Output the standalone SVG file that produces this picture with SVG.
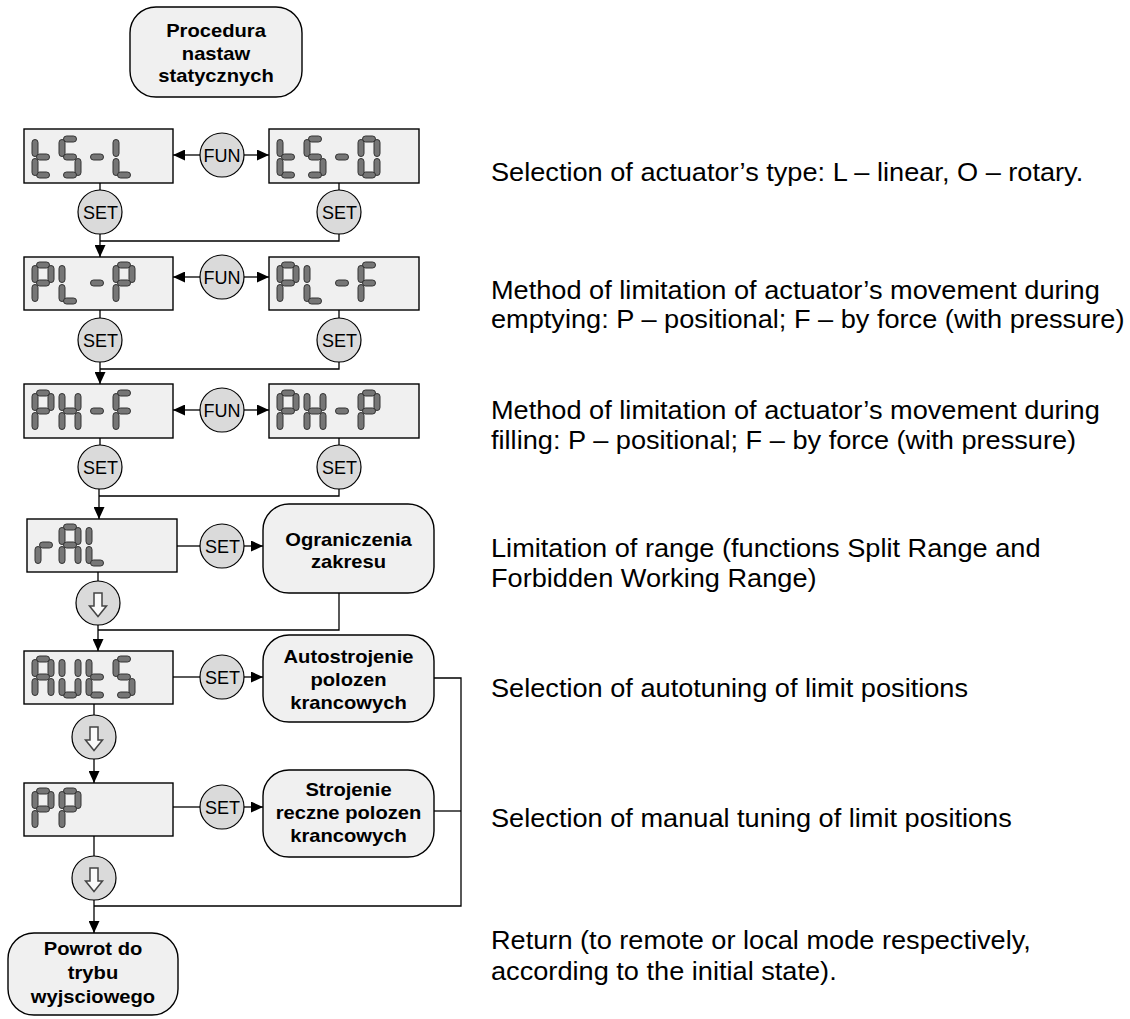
<svg xmlns="http://www.w3.org/2000/svg" width="1130" height="1019" viewBox="0 0 1130 1019">
<style>
.box{fill:#f0f0f0;stroke:#000;stroke-width:1.4}
.disp{fill:#f0f0f0;stroke:#000;stroke-width:1.4}
.btn{fill:#dadada;stroke:#000;stroke-width:1.2}
.seg{fill:#767676;stroke:#333;stroke-width:1}
.bt{font-family:"Liberation Sans",Arial,sans-serif;font-weight:bold;font-size:18px;text-anchor:middle;fill:#000}
.ct{font-family:"Liberation Sans",Arial,sans-serif;font-size:18px;text-anchor:middle;fill:#000}
.rt{font-family:"Liberation Sans",Arial,sans-serif;font-size:26px;fill:#000}
.ln{fill:none;stroke:#000;stroke-width:1.3}
.arr{fill:none;stroke:#000;stroke-width:1.3;marker-end:url(#ah)}
.dn{fill:#fafafa;stroke:#444;stroke-width:1.5}
</style>
<defs>
<marker id="ah" markerWidth="12" markerHeight="11" refX="12" refY="5.5" orient="auto" markerUnits="userSpaceOnUse"><path d="M0,0 L12,5.5 L0,11 Z" fill="#000"/></marker>
<rect id="sh" class="seg" width="13" height="6" rx="3"/>
<rect id="sv" class="seg" width="6" height="17" rx="3"/>
<g id="ch-t"><use href="#sh" x="4.5" y="36"/><use href="#sv" x="0" y="22.5"/><use href="#sv" x="0" y="3.5"/><use href="#sh" x="4.5" y="18"/></g>
<g id="ch-S"><use href="#sh" x="4.5" y="0"/><use href="#sv" x="0" y="3.5"/><use href="#sh" x="4.5" y="18"/><use href="#sv" x="16" y="22.5"/><use href="#sh" x="4.5" y="36"/></g>
<g id="ch-m"><use href="#sh" x="4.5" y="18"/></g>
<g id="ch-L"><use href="#sv" x="0" y="3.5"/><use href="#sv" x="0" y="22.5"/><use href="#sh" x="4.5" y="36"/></g>
<g id="ch-O"><use href="#sh" x="4.5" y="0"/><use href="#sv" x="16" y="3.5"/><use href="#sv" x="16" y="22.5"/><use href="#sh" x="4.5" y="36"/><use href="#sv" x="0" y="22.5"/><use href="#sv" x="0" y="3.5"/></g>
<g id="ch-P"><use href="#sh" x="4.5" y="0"/><use href="#sv" x="16" y="3.5"/><use href="#sv" x="0" y="3.5"/><use href="#sh" x="4.5" y="18"/><use href="#sv" x="0" y="22.5"/></g>
<g id="ch-F"><use href="#sh" x="4.5" y="0"/><use href="#sv" x="0" y="3.5"/><use href="#sh" x="4.5" y="18"/><use href="#sv" x="0" y="22.5"/></g>
<g id="ch-H"><use href="#sv" x="16" y="3.5"/><use href="#sv" x="16" y="22.5"/><use href="#sv" x="0" y="22.5"/><use href="#sv" x="0" y="3.5"/><use href="#sh" x="4.5" y="18"/></g>
<g id="ch-r"><use href="#sv" x="0" y="22.5"/><use href="#sh" x="4.5" y="18"/></g>
<g id="ch-A"><use href="#sh" x="4.5" y="0"/><use href="#sv" x="16" y="3.5"/><use href="#sv" x="16" y="22.5"/><use href="#sv" x="0" y="22.5"/><use href="#sv" x="0" y="3.5"/><use href="#sh" x="4.5" y="18"/></g>
<g id="ch-U"><use href="#sv" x="16" y="3.5"/><use href="#sv" x="16" y="22.5"/><use href="#sh" x="4.5" y="36"/><use href="#sv" x="0" y="22.5"/><use href="#sv" x="0" y="3.5"/></g>
<g id="darr"><circle class="btn" r="22"/><path class="dn" d="M-4,-10 H4 V3 H8.5 L0,13.5 L-8.5,3 H-4 Z"/></g>
</defs>
<rect width="1130" height="1019" fill="#fff"/>

<g id="connectors">
<line class="arr" x1="200" y1="155" x2="173" y2="155"/>
<line class="arr" x1="244" y1="155" x2="269" y2="155"/>
<line class="arr" x1="200" y1="277" x2="173" y2="277"/>
<line class="arr" x1="244" y1="277" x2="269" y2="277"/>
<line class="arr" x1="200" y1="410" x2="173" y2="410"/>
<line class="arr" x1="244" y1="410" x2="269" y2="410"/>
<line class="ln" x1="100" y1="183" x2="100" y2="190"/>
<line class="ln" x1="339" y1="183" x2="339" y2="190"/>
<line class="arr" x1="100" y1="234" x2="100" y2="257"/>
<polyline class="ln" points="339,234 339,241 100,241"/>
<line class="ln" x1="100" y1="310" x2="100" y2="318"/>
<line class="ln" x1="339" y1="310" x2="339" y2="318"/>
<line class="arr" x1="100" y1="362" x2="100" y2="384"/>
<polyline class="ln" points="339,362 339,369 100,369"/>
<line class="ln" x1="100" y1="438" x2="100" y2="445"/>
<line class="ln" x1="339" y1="438" x2="339" y2="445"/>
<line class="arr" x1="99" y1="489" x2="99" y2="519"/>
<polyline class="ln" points="339,489 339,496 99,496"/>
<line class="ln" x1="177" y1="546" x2="200" y2="546"/>
<line class="arr" x1="244" y1="546" x2="263" y2="546"/>
<line class="ln" x1="98" y1="572" x2="98" y2="581"/>
<line class="arr" x1="98" y1="625" x2="98" y2="651"/>
<polyline class="ln" points="339,593 339,630 98,630"/>
<line class="ln" x1="173" y1="677" x2="200" y2="677"/>
<line class="arr" x1="244" y1="677" x2="263" y2="677"/>
<line class="ln" x1="94" y1="704" x2="94" y2="715"/>
<line class="arr" x1="94" y1="759" x2="94" y2="783"/>
<line class="ln" x1="173" y1="807" x2="200" y2="807"/>
<line class="arr" x1="244" y1="807" x2="263" y2="807"/>
<line class="ln" x1="94" y1="836" x2="94" y2="856"/>
<line class="arr" x1="94" y1="900" x2="94" y2="933"/>
<polyline class="ln" points="434,678 461,678 461,906 94,906"/>
<line class="ln" x1="434" y1="811" x2="461" y2="811"/>
</g>

<g id="start">
<rect class="box" x="130" y="7" width="172" height="90" rx="26"/>
<g transform="translate(216,0) scale(1.12,1)">
<text class="bt" x="0" y="37">Procedura</text>
<text class="bt" x="0" y="60">nastaw</text>
<text class="bt" x="0" y="82">statycznych</text>
</g>
</g>

<g id="disp-tS-L">
<rect class="disp" x="24" y="129" width="149" height="54"/>
<use href="#ch-t" x="32" y="136"/><use href="#ch-S" x="59" y="136"/><use href="#ch-m" x="86" y="136"/><use href="#ch-L" x="113" y="136"/>
</g>
<g id="disp-tS-O">
<rect class="disp" x="269" y="129" width="150" height="54"/>
<use href="#ch-t" x="277" y="136"/><use href="#ch-S" x="304" y="136"/><use href="#ch-m" x="331" y="136"/><use href="#ch-O" x="358" y="136"/>
</g>
<g id="fun1"><circle class="btn" cx="222" cy="155" r="22"/><text class="ct" x="222" y="161.5">FUN</text></g>
<g id="set1l"><circle class="btn" cx="100" cy="212" r="22"/><text class="ct" x="100.5" y="218.5">SET</text></g>
<g id="set1r"><circle class="btn" cx="339" cy="212" r="22"/><text class="ct" x="339.5" y="218.5">SET</text></g>

<g id="disp-PL-P">
<rect class="disp" x="24" y="257" width="149" height="53"/>
<use href="#ch-P" x="32" y="262"/><use href="#ch-L" x="59" y="262"/><use href="#ch-m" x="86" y="262"/><use href="#ch-P" x="113" y="262"/>
</g>
<g id="disp-PL-F">
<rect class="disp" x="269" y="257" width="150" height="53"/>
<use href="#ch-P" x="277" y="262"/><use href="#ch-L" x="304" y="262"/><use href="#ch-m" x="331" y="262"/><use href="#ch-F" x="358" y="262"/>
</g>
<g id="fun2"><circle class="btn" cx="222" cy="277" r="22"/><text class="ct" x="222" y="283.5">FUN</text></g>
<g id="set2l"><circle class="btn" cx="100" cy="340" r="22"/><text class="ct" x="100.5" y="346.5">SET</text></g>
<g id="set2r"><circle class="btn" cx="339" cy="340" r="22"/><text class="ct" x="339.5" y="346.5">SET</text></g>

<g id="disp-PH-F">
<rect class="disp" x="24" y="384" width="149" height="54"/>
<use href="#ch-P" x="32" y="390"/><use href="#ch-H" x="59" y="390"/><use href="#ch-m" x="86" y="390"/><use href="#ch-F" x="113" y="390"/>
</g>
<g id="disp-PH-P">
<rect class="disp" x="269" y="384" width="150" height="54"/>
<use href="#ch-P" x="277" y="390"/><use href="#ch-H" x="304" y="390"/><use href="#ch-m" x="331" y="390"/><use href="#ch-P" x="358" y="390"/>
</g>
<g id="fun3"><circle class="btn" cx="222" cy="410" r="22"/><text class="ct" x="222" y="416.5">FUN</text></g>
<g id="set3l"><circle class="btn" cx="100" cy="467" r="22"/><text class="ct" x="100.5" y="473.5">SET</text></g>
<g id="set3r"><circle class="btn" cx="339" cy="467" r="22"/><text class="ct" x="339.5" y="473.5">SET</text></g>

<g id="disp-rAL">
<rect class="disp" x="27" y="519" width="150" height="53"/>
<use href="#ch-r" x="35" y="524"/><use href="#ch-A" x="59" y="524"/><use href="#ch-L" x="86" y="524"/>
</g>
<g id="set4"><circle class="btn" cx="222" cy="546" r="22"/><text class="ct" x="222.5" y="552.5">SET</text></g>
<g id="range">
<rect class="box" x="263" y="504" width="171" height="89" rx="26"/>
<g transform="translate(348.5,0) scale(1.12,1)">
<text class="bt" x="0" y="546">Ograniczenia</text>
<text class="bt" x="0" y="568">zakresu</text>
</g>
</g>
<g id="down1"><use href="#darr" x="98" y="603"/></g>

<g id="disp-AUtS">
<rect class="disp" x="24" y="651" width="149" height="53"/>
<use href="#ch-A" x="32" y="656"/><use href="#ch-U" x="59" y="656"/><use href="#ch-t" x="86" y="656"/><use href="#ch-S" x="113" y="656"/>
</g>
<g id="set5"><circle class="btn" cx="222" cy="677" r="22"/><text class="ct" x="222.5" y="683.5">SET</text></g>
<g id="autotune">
<rect class="box" x="263" y="635" width="171" height="87" rx="26"/>
<g transform="translate(348.5,0) scale(1.12,1)">
<text class="bt" x="0" y="663">Autostrojenie</text>
<text class="bt" x="0" y="686">polozen</text>
<text class="bt" x="0" y="709">krancowych</text>
</g>
</g>
<g id="down2"><use href="#darr" x="94" y="737"/></g>

<g id="disp-PP">
<rect class="disp" x="24" y="783" width="149" height="53"/>
<use href="#ch-P" x="32" y="788"/><use href="#ch-P" x="59" y="788"/>
</g>
<g id="set6"><circle class="btn" cx="222" cy="807" r="22"/><text class="ct" x="222.5" y="813.5">SET</text></g>
<g id="manualtune">
<rect class="box" x="263" y="770" width="171" height="87" rx="26"/>
<g transform="translate(348.5,0) scale(1.12,1)">
<text class="bt" x="0" y="796">Strojenie</text>
<text class="bt" x="0" y="819">reczne polozen</text>
<text class="bt" x="0" y="842">krancowych</text>
</g>
</g>
<g id="down3"><use href="#darr" x="94" y="878"/></g>

<g id="return">
<rect class="box" x="8" y="933" width="170" height="82" rx="26"/>
<g transform="translate(93,0) scale(1.12,1)">
<text class="bt" x="0" y="955">Powrot do</text>
<text class="bt" x="0" y="979">trybu</text>
<text class="bt" x="0" y="1003">wyjsciowego</text>
</g>
</g>

<g id="descriptions" transform="translate(491,0) scale(1.045,1)">
<text class="rt" x="0" y="181">Selection of actuator’s type: L – linear, O – rotary.</text>
<text class="rt" x="0" y="299">Method of limitation of actuator’s movement during</text>
<text class="rt" x="0" y="328">emptying: P – positional; F – by force (with pressure)</text>
<text class="rt" x="0" y="419">Method of limitation of actuator’s movement during</text>
<text class="rt" x="0" y="449">filling: P – positional; F – by force (with pressure)</text>
<text class="rt" x="0" y="557">Limitation of range (functions Split Range and</text>
<text class="rt" x="0" y="587">Forbidden Working Range)</text>
<text class="rt" x="0" y="697">Selection of autotuning of limit positions</text>
<text class="rt" x="0" y="827">Selection of manual tuning of limit positions</text>
<text class="rt" x="0" y="949">Return (to remote or local mode respectively,</text>
<text class="rt" x="0" y="980">according to the initial state).</text>
</g>
</svg>
